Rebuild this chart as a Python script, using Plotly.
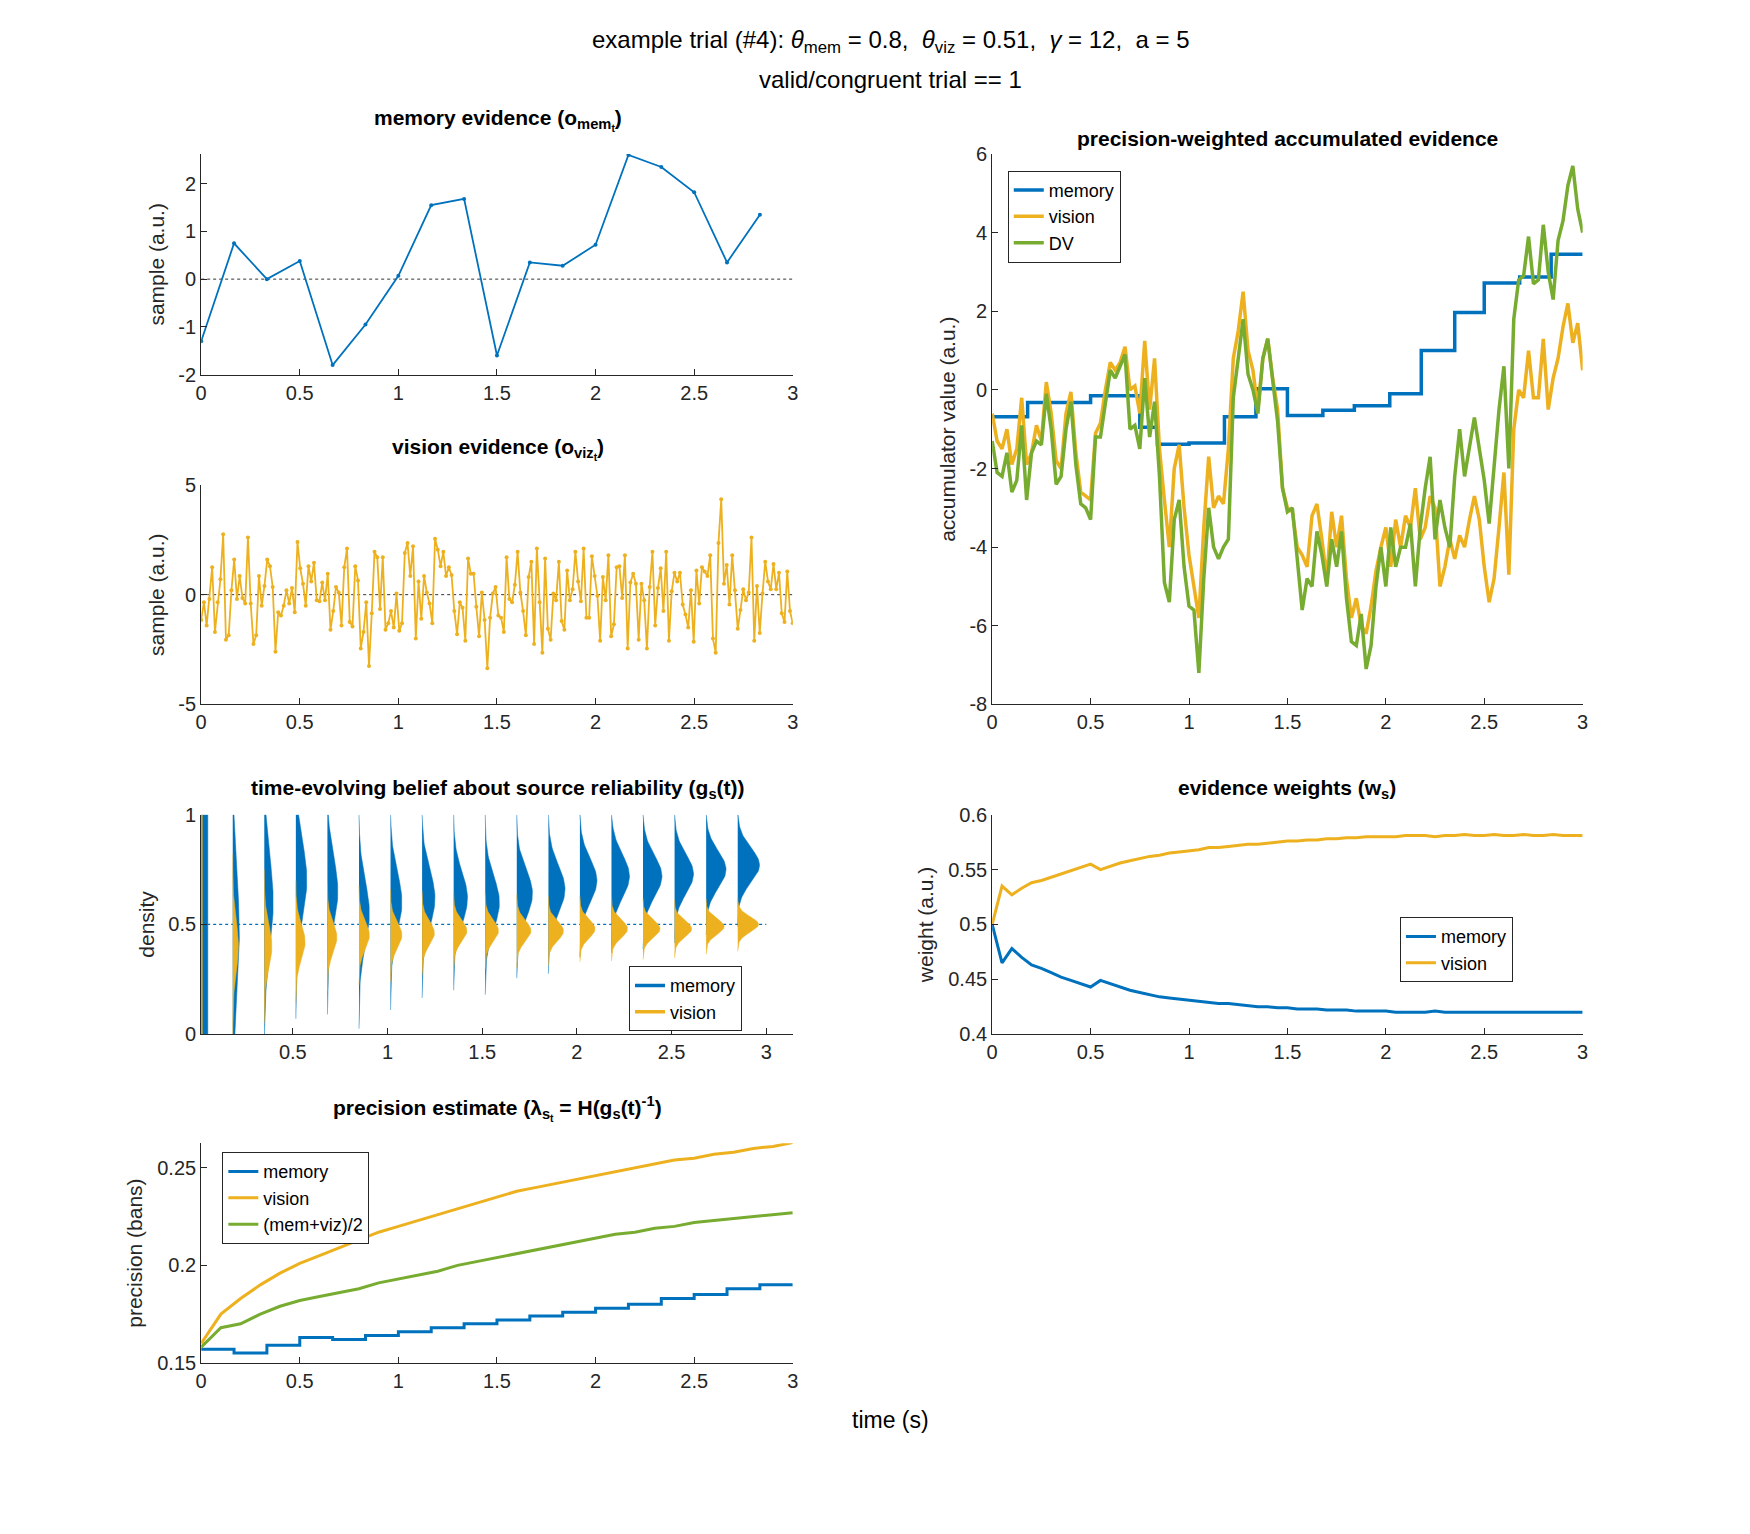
import numpy as np
import plotly.graph_objects as go

BLUE = '#0072BD'
YELLOW = '#EDB120'
GREEN = '#77AC30'
FONT = 'Liberation Sans, Arial, sans-serif'

# memory evidence samples (one every 1/6 s)
mem_samples = [-1.3, 0.75, 0.0, 0.38, -1.8, -0.95, 0.07, 1.55, 1.68, -1.6,
               0.35, 0.28, 0.72, 2.6, 2.35, 1.82, 0.35, 1.35]

# vision evidence samples (evenly spaced over 0-3 s)
viz_samples = [
    -1.15, -0.35, -1.4, -0.2, 1.25, -1.7, -0.35, 0.7, 2.75, -2.05,
    -1.85, 0.2, 1.6, -0.2, 0.85, -0.15, -0.4, 2.6, -0.4, -2.25,
    -1.85, 0.85, -0.5, 0.4, 1.6, 1.3, 0.35, -2.6, -0.8, -0.95,
    -0.5, 0.2, -0.4, 0.3, -0.8, 2.4, 1.2, 0.5, -0.5, 1.3,
    0.6, 1.45, -0.25, -0.3, 0.55, -0.25, 0.95, -1.6, -0.75, 0.35,
    0.1, -1.4, 1.25, 2.1, -1.25, -1.45, 1.3, 0.65, -2.45, -1.7,
    -0.35, -3.25, -0.85, 1.95, 1.7, -0.65, 1.7, -1.6, -1.3, -0.75,
    -1.5, 0.05, -1.65, -1.3, 1.9, 2.35, 0.85, 2.2, -2.0, 0.6,
    -1.1, 0.85, 0.1, -0.4, -1.3, 2.55, 2.05, 1.3, 1.95, 0.85,
    1.25, 0.9, -0.75, -1.8, -0.35, -0.6, -2.1, 1.65, 0.95, 0.95,
    -0.55, -1.9, 0.1, -1.15, -3.35, -1.05, 0.05, 0.35, -0.95, -1.05,
    -1.7, 1.7, -0.2, -0.35, 0.45, 1.95, 0.1, -0.75, -1.85, 0.8,
    1.5, -2.25, 2.1, -0.35, -2.65, 1.65, -1.55, -2.05, 0.05, -0.25,
    1.5, -1.2, -1.6, 1.1, -0.25, 0.25, 1.95, 0.6, -0.3, 2.1,
    -1.05, -1.05, 1.75, 0.85, -0.05, -2.1, 0.8, -0.25, 1.8, -1.9,
    -1.35, 1.25, 1.3, -0.15, 1.8, -2.45, 0.55, 0.95, 0.5, -2.05,
    0.5, -0.25, -2.45, 0.35, 1.95, -1.4, 0.3, 1.2, -0.75, 1.95,
    -2.1, 0.15, 1.0, 0.6, 1.0, -0.45, -0.9, -1.5, 0.2, -2.15,
    1.1, -0.4, 1.25, 1.05, 0.85, 1.8, -2.0, -2.65, 2.35, 4.35,
    0.5, 1.35, -0.45, 1.8, 0.2, -1.55, -0.7, 0.25, -0.25, 0.1,
    2.6, -2.1, 0.4, -1.75, 0.05, 1.5, 0.6, 0.25, 1.4, 0.25,
    1.0, -0.85, -1.25, 1.05, -0.75, -1.3]

# accumulated evidence (every 25 ms)
acc_viz = [
    -0.6, -1.3, -1.5, -1.0, -1.9, -1.5, -0.2, -1.9, -1.6, -0.9,
    -1.3, 0.2, -0.6, -1.8, -2.0, -0.6, -0.05, -1.6, -2.6, -2.7,
    -2.8, -1.1, -0.85, 0.0, 0.7, 0.5, 0.7, 1.1, 0.0, 0.1,
    -0.6, 1.25, -0.5, 0.8, -1.5, -2.8, -4.0, -2.0, -1.4, -3.0,
    -4.2, -5.0, -5.8, -3.5, -1.7, -3.0, -2.7, -2.9, -1.5, 0.8,
    1.5, 2.5, 1.0, 0.5, -0.5, 0.8, 1.3, 0.3, -0.5, -2.5,
    -3.0, -3.1, -4.0, -4.2, -4.5, -3.2, -2.9, -3.8, -4.8, -3.1,
    -4.0, -3.2, -4.8, -5.8, -5.3, -6.0, -6.2, -5.5, -4.6, -4.0,
    -3.5, -4.5, -3.3, -4.0, -3.2, -3.5, -2.5, -3.8, -3.5, -2.7,
    -3.0, -5.0, -4.5, -3.8, -4.3, -3.7, -4.0, -3.3, -2.7, -3.3,
    -4.5, -5.4, -4.8, -3.5, -2.1, -4.7, -1.0, 0.0, -0.2, 1.0,
    -0.2, -0.2, 1.3, -0.5, 0.3, 0.8, 1.6, 2.2, 1.2, 1.7,
    0.5]
acc_dv = [
    -1.3, -2.1, -2.2, -1.6, -2.6, -2.3, -0.9, -2.8, -1.6, -1.3,
    -1.4, -0.1, -1.0, -2.4, -2.2, -1.0, -0.3, -1.9, -2.9, -3.0,
    -3.3, -1.2, -1.2, -0.4, 0.5, 0.3, 0.6, 0.9, -1.0, -0.9,
    -1.5, 0.3, -1.2, -0.3, -2.2, -4.9, -5.4, -3.3, -2.8, -4.5,
    -5.5, -5.6, -7.2, -4.8, -3.0, -4.0, -4.3, -4.0, -3.8, -0.2,
    0.8, 1.8, 0.4, 0.0, -0.6, 0.8, 1.3, 0.2, -0.8, -2.5,
    -3.1, -3.0, -4.4, -5.6, -4.8, -5.0, -3.6, -4.2, -5.0, -3.8,
    -4.5, -3.6, -5.3, -6.4, -6.5, -5.7, -7.1, -6.5, -5.0, -4.0,
    -5.0, -3.5, -4.5, -4.0, -4.0, -3.4, -5.0, -3.5, -2.5, -1.7,
    -3.8, -2.8, -3.5, -4.0, -2.2, -1.0, -2.2, -1.5, -0.7, -1.5,
    -2.3, -3.4, -2.0, -0.5, 0.6, -2.0, 1.8, 2.8, 2.9, 3.9,
    2.7, 2.8, 4.2, 3.0, 2.3, 3.8, 4.3, 5.2, 5.7, 4.6,
    4.0]
acc_mem_t = [0, 0.18, 0.5, 0.75, 0.84, 1.0, 1.18, 1.34, 1.5, 1.68, 1.84,
             2.02, 2.18, 2.35, 2.5, 2.68, 2.84, 3.0]
acc_mem = [-0.68, -0.32, -0.15, -0.95, -1.38, -1.35, -0.68, 0.03, -0.65, -0.52,
           -0.4, -0.1, 1.0, 1.97, 2.72, 2.87, 3.45, 3.45]

# belief densities per memory sample: mean, sd, drawn width
mem_mean = [0.5, 0.45, 0.6, 0.7, 0.65, 0.55, 0.6, 0.62, 0.62, 0.6, 0.64, 0.66, 0.7, 0.72, 0.72, 0.73, 0.75, 0.77]
mem_sd = [1.0, 0.3, 0.22, 0.18, 0.16, 0.15, 0.14, 0.13, 0.12, 0.12, 0.11, 0.11, 0.1, 0.1, 0.095, 0.09, 0.085, 0.08]
mem_w = [0.035, 0.035, 0.047, 0.058, 0.055, 0.055, 0.06, 0.068, 0.073, 0.075, 0.083, 0.088, 0.09, 0.095, 0.1, 0.1, 0.105, 0.115]
viz_mean = [0.5, 0.4, 0.4, 0.42, 0.44, 0.45, 0.45, 0.46, 0.47, 0.47, 0.47, 0.47, 0.48, 0.48, 0.48, 0.48, 0.49, 0.5]
viz_sd = [1.0, 0.12, 0.1, 0.08, 0.07, 0.065, 0.06, 0.055, 0.05, 0.05, 0.048, 0.045, 0.043, 0.042, 0.04, 0.038, 0.036, 0.035]
viz_w = [0.006, 0.03, 0.04, 0.049, 0.05, 0.055, 0.06, 0.065, 0.07, 0.07, 0.075, 0.08, 0.08, 0.085, 0.09, 0.09, 0.095, 0.11]

# evidence weights (every 50 ms)
w_viz = [0.5, 0.535, 0.527, 0.533, 0.538, 0.540, 0.543, 0.546, 0.549, 0.552,
         0.555, 0.550, 0.553, 0.556, 0.558, 0.560, 0.562, 0.563, 0.565, 0.566,
         0.567, 0.568, 0.570, 0.570, 0.571, 0.572, 0.573, 0.573, 0.574, 0.575,
         0.576, 0.576, 0.577, 0.577, 0.578, 0.578, 0.579, 0.579, 0.580, 0.580,
         0.580, 0.580, 0.581, 0.581, 0.581, 0.580, 0.581, 0.581, 0.582, 0.581,
         0.581, 0.582, 0.581, 0.581, 0.582, 0.581, 0.581, 0.582, 0.581, 0.581,
         0.581]
w_mem = [0.5, 0.465, 0.478, 0.470, 0.463, 0.460, 0.456, 0.452, 0.449, 0.446,
         0.443, 0.449, 0.446, 0.443, 0.440, 0.438, 0.436, 0.434, 0.433, 0.432,
         0.431, 0.430, 0.429, 0.428, 0.428, 0.427, 0.426, 0.425, 0.425, 0.424,
         0.424, 0.423, 0.423, 0.423, 0.422, 0.422, 0.422, 0.421, 0.421, 0.421,
         0.421, 0.420, 0.420, 0.420, 0.420, 0.421, 0.420, 0.420, 0.420, 0.420,
         0.420, 0.420, 0.420, 0.420, 0.420, 0.420, 0.420, 0.420, 0.420, 0.420,
         0.420]

# precision estimates
prec_viz = [0.160, 0.175, 0.183, 0.190, 0.196, 0.201, 0.205, 0.209, 0.213, 0.217,
            0.220, 0.223, 0.226, 0.229, 0.232, 0.235, 0.238, 0.240, 0.242, 0.244,
            0.246, 0.248, 0.250, 0.252, 0.254, 0.255, 0.257, 0.258, 0.260, 0.261,
            0.263]
prec_avg = [0.158, 0.168, 0.170, 0.175, 0.179, 0.182, 0.184, 0.186, 0.188, 0.191,
            0.193, 0.195, 0.197, 0.200, 0.202, 0.204, 0.206, 0.208, 0.210, 0.212,
            0.214, 0.216, 0.217, 0.219, 0.220, 0.222, 0.223, 0.224, 0.225, 0.226,
            0.227]
prec_mem = [0.157, 0.155, 0.159, 0.163, 0.162, 0.164, 0.166, 0.168, 0.170, 0.172,
            0.174, 0.176, 0.178, 0.180, 0.183, 0.185, 0.188, 0.190, 0.190]

mem_t = [k / 6 for k in range(len(mem_samples))]

fig = go.Figure()

# memory evidence
fig.add_trace(go.Scatter(x=[0, 3], y=[0, 0], mode='lines', line=dict(color='#333', width=1, dash='dot'),
                         xaxis='x', yaxis='y', showlegend=False))
fig.add_trace(go.Scatter(x=mem_t, y=mem_samples, mode='lines+markers', line=dict(color=BLUE, width=1.8),
                         marker=dict(size=4, color=BLUE), xaxis='x', yaxis='y', showlegend=False))

# vision evidence
fig.add_trace(go.Scatter(x=[0, 3], y=[0, 0], mode='lines', line=dict(color='#333', width=1, dash='dot'),
                         xaxis='x2', yaxis='y2', showlegend=False))
fig.add_trace(go.Scatter(x=np.linspace(0, 3, len(viz_samples)), y=viz_samples, mode='lines+markers',
                         line=dict(color=YELLOW, width=1.8), marker=dict(size=4, color=YELLOW),
                         xaxis='x2', yaxis='y2', showlegend=False))

# accumulated evidence
fig.add_trace(go.Scatter(x=acc_mem_t, y=acc_mem, mode='lines', line=dict(color=BLUE, width=3.5, shape='hv'),
                         name='memory', xaxis='x3', yaxis='y3', legend='legend'))
fig.add_trace(go.Scatter(x=np.linspace(0, 3, len(acc_viz)), y=acc_viz, mode='lines',
                         line=dict(color=YELLOW, width=3.5), name='vision', xaxis='x3', yaxis='y3', legend='legend'))
fig.add_trace(go.Scatter(x=np.linspace(0, 3, len(acc_dv)), y=acc_dv, mode='lines',
                         line=dict(color=GREEN, width=3.5), name='DV', xaxis='x3', yaxis='y3', legend='legend'))

# belief densities
fig.add_trace(go.Scatter(x=[0.016, 3.0], y=[0.5, 0.5], mode='lines', line=dict(color=BLUE, width=1.2, dash='dot'),
                         xaxis='x4', yaxis='y4', showlegend=False))


def slice_shape(base, mu, sd, w):
    if sd >= 1:
        yy = np.array([0, 1, 1, 0])
        xx = np.array([base, base, base + w, base + w])
        return xx, yy
    yy = np.linspace(max(0, mu - 3.5 * sd), min(1, mu + 3.5 * sd), 80)
    xx = base + w * np.exp(-0.5 * ((yy - mu) / sd) ** 2)
    return np.r_[base, xx, base], np.r_[yy[0], yy, yy[-1]]


for k in range(len(mem_mean)):
    base = 0.016 + k / 6
    xx, yy = slice_shape(base, mem_mean[k], mem_sd[k], mem_w[k])
    fig.add_trace(go.Scatter(x=xx, y=yy, fill='toself', fillcolor=BLUE, mode='lines', line=dict(color=BLUE, width=0.5),
                             xaxis='x4', yaxis='y4', showlegend=False, hoverinfo='skip'))
for k in range(len(viz_mean)):
    base = 0.016 + k / 6
    xx, yy = slice_shape(base, viz_mean[k], viz_sd[k], viz_w[k])
    fig.add_trace(go.Scatter(x=xx, y=yy, fill='toself', fillcolor=YELLOW, mode='lines', line=dict(color=YELLOW, width=0.5),
                             xaxis='x4', yaxis='y4', showlegend=False, hoverinfo='skip'))
for nm, c in [('memory', BLUE), ('vision', YELLOW)]:
    fig.add_trace(go.Scatter(x=[None], y=[None], mode='lines', line=dict(color=c, width=3.5), name=nm,
                             xaxis='x4', yaxis='y4', legend='legend2'))

# weights
fig.add_trace(go.Scatter(x=np.linspace(0, 3, len(w_mem)), y=w_mem, mode='lines', line=dict(color=BLUE, width=3),
                         name='memory', xaxis='x5', yaxis='y5', legend='legend3'))
fig.add_trace(go.Scatter(x=np.linspace(0, 3, len(w_viz)), y=w_viz, mode='lines', line=dict(color=YELLOW, width=3),
                         name='vision', xaxis='x5', yaxis='y5', legend='legend3'))

# precision
prec_mem_t = [k / 6 for k in range(len(prec_mem) - 1)] + [3.0]
fig.add_trace(go.Scatter(x=prec_mem_t, y=prec_mem, mode='lines', line=dict(color=BLUE, width=3, shape='hv'),
                         name='memory', xaxis='x6', yaxis='y6', legend='legend4'))
fig.add_trace(go.Scatter(x=np.linspace(0, 3, len(prec_viz)), y=prec_viz, mode='lines', line=dict(color=YELLOW, width=3),
                         name='vision', xaxis='x6', yaxis='y6', legend='legend4'))
fig.add_trace(go.Scatter(x=np.linspace(0, 3, len(prec_avg)), y=prec_avg, mode='lines', line=dict(color=GREEN, width=3),
                         name='(mem+viz)/2', xaxis='x6', yaxis='y6', legend='legend4'))


def ax(domain, rng, tickvals, anchor, title=None):
    d = dict(domain=domain, range=rng, tickvals=tickvals, ticktext=['%g' % v for v in tickvals], anchor=anchor,
             showline=True, linecolor='#262626', linewidth=1, ticks='inside', ticklen=6, tickcolor='#262626',
             showgrid=False, zeroline=False, tickfont=dict(size=20, color='#262626'))
    if title:
        d['title'] = dict(text=title, font=dict(size=21, color='#262626'), standoff=8)
    return d


# reference pixel positions -> paper fractions
W, H = 1560, 1366


def X(p):
    return (p - 11) / W


def Y(p):
    return 1 - (p - 15 + 0.0065 * (p - 137)) / H


L = [X(179), X(710)]
R = [X(889), X(1419)]
xt = [0, 0.5, 1, 1.5, 2, 2.5, 3]

legend_style = dict(bgcolor='white', bordercolor='#262626', borderwidth=1, font=dict(size=18, color='black'),
                    xanchor='left', yanchor='top', tracegroupgap=0)

fig.update_layout(
    width=1750, height=1534, plot_bgcolor='white', paper_bgcolor='white',
    margin=dict(l=0, r=0, t=0, b=0), font=dict(family=FONT, color='#262626'),
    xaxis=ax(L, [0, 3], xt, 'y'),
    yaxis=ax([Y(335), Y(137)], [-2, 2.62], [-2, -1, 0, 1, 2], 'x', 'sample (a.u.)'),
    xaxis2=ax(L, [0, 3], xt, 'y2'),
    yaxis2=ax([Y(631), Y(434)], [-5, 5], [-5, 0, 5], 'x2', 'sample (a.u.)'),
    xaxis3=ax(R, [0, 3], xt, 'y3'),
    yaxis3=ax([Y(631), Y(137)], [-8, 6], [-8, -6, -4, -2, 0, 2, 4, 6], 'x3', 'accumulator value (a.u.)'),
    xaxis4=ax(L, [0.016, 3.14], [0.5, 1, 1.5, 2, 2.5, 3], 'y4'),
    yaxis4=ax([Y(927), Y(730)], [0, 1], [0, 0.5, 1], 'x4', 'density'),
    xaxis5=ax(R, [0, 3], xt, 'y5'),
    yaxis5=ax([Y(927), Y(730)], [0.4, 0.6], [0.4, 0.45, 0.5, 0.55, 0.6], 'x5', 'weight (a.u.)'),
    xaxis6=ax(L, [0, 3], xt, 'y6'),
    yaxis6=ax([Y(1222), Y(1025)], [0.15, 0.2626], [0.15, 0.2, 0.25], 'x6', 'precision (bans)'),
    legend=dict(x=X(903), y=Y(152), **legend_style),
    legend2=dict(x=X(563), y=Y(866), **legend_style),
    legend3=dict(x=X(1255), y=Y(822), **legend_style),
    legend4=dict(x=X(198), y=Y(1033), **legend_style),
)

titles = [
    ('<b>memory evidence (o<sub>mem<sub>t</sub></sub>)</b>', 445, 106),
    ('<b>vision evidence (o<sub>viz<sub>t</sub></sub>)</b>', 445, 402),
    ('<b>precision-weighted accumulated evidence</b>', 1154, 123),
    ('<b>time-evolving belief about source reliability (g<sub>s</sub>(t))</b>', 445, 707),
    ('<b>evidence weights (w<sub>s</sub>)</b>', 1154, 707),
    ('<b>precision estimate (λ<sub>s<sub>t</sub></sub> = H(g<sub>s</sub>(t)<sup>-1</sup>)</b>', 445, 994),
]
for txt, x, y in titles:
    fig.add_annotation(text=txt, x=X(x), y=Y(y), xref='paper', yref='paper', showarrow=False,
                       xanchor='center', yanchor='middle', font=dict(size=21, color='black'))

fig.add_annotation(text='example trial (#4): <i>θ</i><sub>mem</sub> = 0.8,  <i>θ</i><sub>viz</sub> = 0.51,  <i>γ</i> = 12,  a = 5',
                   x=X(798), y=Y(36), xref='paper', yref='paper', showarrow=False,
                   xanchor='center', yanchor='middle', font=dict(size=24, color='black'))
fig.add_annotation(text='valid/congruent trial == 1', x=X(798), y=Y(70), xref='paper', yref='paper',
                   showarrow=False, xanchor='center', yanchor='middle', font=dict(size=24, color='black'))
fig.add_annotation(text='time (s)', x=X(798), y=Y(1273), xref='paper', yref='paper', showarrow=False,
                   xanchor='center', yanchor='middle', font=dict(size=23, color='black'))

fig.write_html("out.html")
